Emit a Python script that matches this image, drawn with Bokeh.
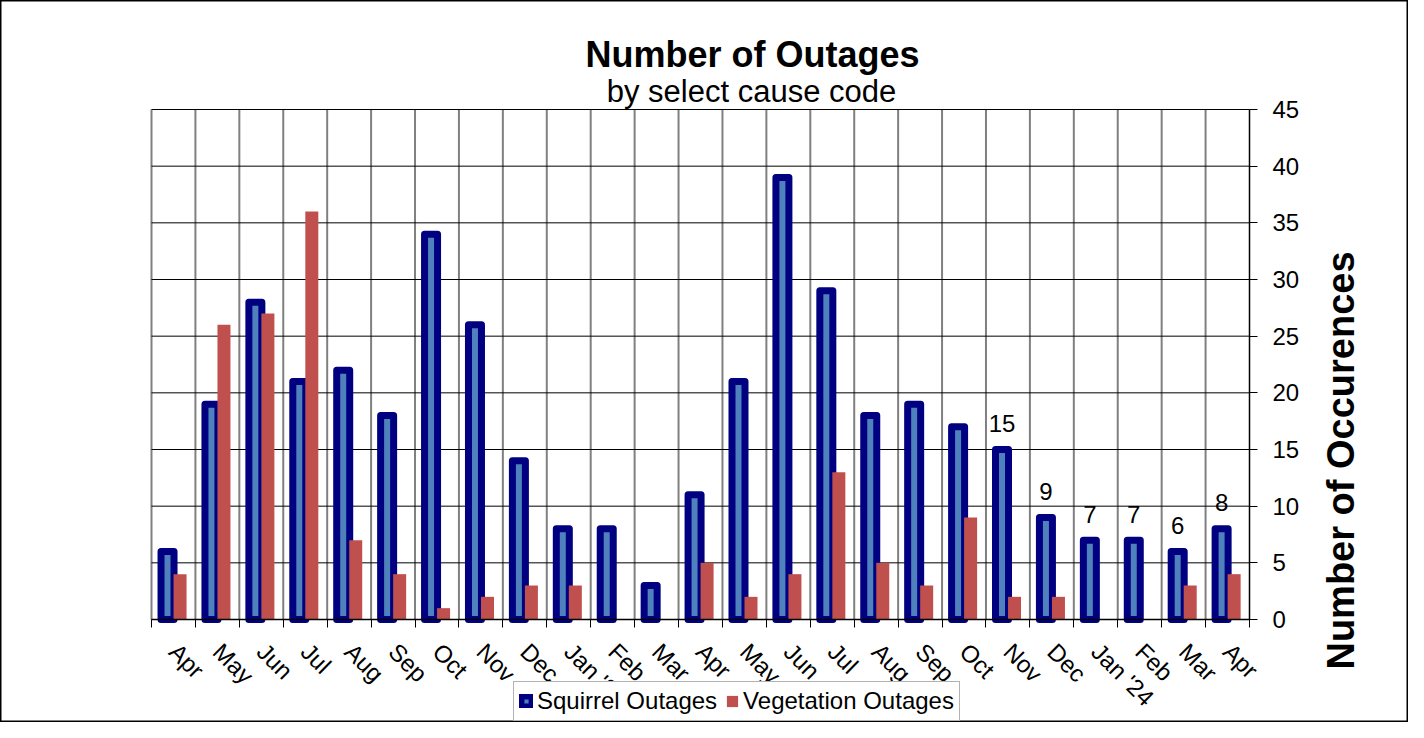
import math
from bokeh.plotting import figure
from bokeh.models import Range1d, FixedTicker, Label
from bokeh.core.properties import value
from bokeh.embed import file_html
from bokeh.resources import INLINE

# ---- data ----
months = ["Apr", "May", "Jun", "Jul", "Aug", "Sep", "Oct", "Nov", "Dec", "Jan '23",
          "Feb", "Mar", "Apr", "May", "Jun", "Jul", "Aug", "Sep", "Oct", "Nov", "Dec",
          "Jan '24", "Feb", "Mar", "Apr"]
squirrel = [6, 19, 28, 21, 22, 18, 34, 26, 14, 8, 8, 3, 11, 21, 39, 29, 18, 19, 17, 15, 9, 7, 7, 6, 8]
vegetation = [4, 26, 27, 36, 7, 4, 1, 2, 3, 3, 0, 0, 5, 2, 4, 13, 5, 3, 9, 2, 2, 0, 0, 3, 4]
squirrel_labels = ["", "", "", "", "", "", "", "", "", "", "", "", "", "", "", "", "", "", "",
                   "15", "9", "7", "7", "6", "8"]
y_ticks = [0, 5, 10, 15, 20, 25, 30, 35, 40, 45]
y_max = 45

FONT = "Liberation Sans"
n = len(months)
idx = list(range(n))
bounds_x = [i - 0.5 for i in range(n + 1)]

# ---- layout (pixels) ----
W, H = 1408, 722
PL, PR, PT, PB = 151, 1249, 109, 619          # plot-area edges in the picture
ppx = (PR - PL) / n                            # px per category
ppy = (PB - PT) / y_max                        # px per unit


def px2x(px):
    return -0.5 + (px - PL) / ppx


def px2y(py):
    return (PB - py) / ppy


p = figure(width=W, height=H, output_backend="svg", toolbar_location=None,
           x_range=Range1d(px2x(0), px2x(W)), y_range=Range1d(px2y(H), px2y(0)),
           x_axis_location="below", y_axis_location="right", min_border=0)
p.outline_line_color = "black"
p.outline_line_width = 2
p.background_fill_color = "white"
p.border_fill_color = "white"
p.xgrid.visible = False
p.ygrid.visible = False

# grid of the plot area
p.segment(x0=bounds_x, y0=[0] * len(bounds_x), x1=bounds_x, y1=[y_max] * len(bounds_x),
          line_color="#808080", line_width=2)
p.segment(x0=[-0.5] * len(y_ticks), y0=y_ticks, x1=[n - 0.5] * len(y_ticks), y1=y_ticks,
          line_color="black", line_width=1)

sq_x = [i - 0.135 for i in idx]
veg_x = [i + 0.15 for i in idx]
p.vbar(x=sq_x, top=squirrel, bottom=0, width=0.296,
       fill_color="#4F81BD", line_color="#000080", line_width=7, line_join="round",
       legend_label="Squirrel Outages")
p.vbar(x=veg_x, top=vegetation, bottom=0, width=0.296,
       fill_color="#C0504D", line_color=None, legend_label="Vegetation Outages")

p.text(x=sq_x, y=squirrel, text=squirrel_labels, y_offset=-26,
       text_align="center", text_baseline="alphabetic",
       text_font=value(FONT), text_font_size="24px", text_color="black")

# x axis at y = 0
xa = p.xaxis[0]
xa.fixed_location = 0
xa.bounds = (-0.5, n - 0.5)
xa.ticker = FixedTicker(ticks=idx, minor_ticks=bounds_x)
xa.major_label_overrides = {i: months[i] for i in idx}
xa.major_tick_line_color = None
xa.major_tick_out = 0
xa.major_tick_in = 0
xa.minor_tick_line_color = "black"
xa.minor_tick_out = 8
xa.minor_tick_in = 0
xa.axis_line_color = "black"
xa.axis_line_width = 1.5
xa.major_label_orientation = -math.pi / 4
xa.major_label_text_font = FONT
xa.major_label_text_font_size = "24px"
xa.major_label_text_color = "black"
xa.major_label_standoff = 20

# y axis at the right edge of the plot area
ya = p.yaxis[0]
ya.fixed_location = n - 0.5
ya.bounds = (0, y_max)
ya.ticker = FixedTicker(ticks=y_ticks)
ya.axis_line_color = "black"
ya.major_tick_line_color = "black"
ya.major_tick_out = 8
ya.major_tick_in = 0
ya.minor_tick_line_color = None
ya.major_label_text_font = FONT
ya.major_label_text_font_size = "24px"
ya.major_label_text_color = "black"
ya.major_label_standoff = 15

# titles and axis title
p.add_layout(Label(x=px2x(752), y=px2y(54), text="Number of Outages", text_align="center",
                   text_baseline="alphabetic", text_font=FONT, text_font_size="36px",
                   text_font_style="bold", text_color="black"))
p.add_layout(Label(x=px2x(751), y=px2y(91), text="by select cause code", text_align="center",
                   text_baseline="alphabetic", text_font=FONT, text_font_size="31px",
                   text_color="black"))
p.add_layout(Label(x=px2x(1340), y=px2y(460), text="Number of Occurences", angle=math.pi / 2,
                   text_align="center", text_baseline="alphabetic", text_font=FONT,
                   text_font_size="38px", text_font_style="bold", text_color="black"))

# legend
lg = p.legend[0]
lg.orientation = "horizontal"
lg.location = (513, 1)
lg.label_text_font = FONT
lg.label_text_font_size = "24px"
lg.label_text_color = "black"
lg.glyph_width = 14
lg.glyph_height = 14
lg.label_standoff = 4
lg.spacing = 8
lg.padding = 5
lg.margin = 0
lg.border_line_color = "#666666"
lg.border_line_width = 1
lg.background_fill_color = "white"
lg.background_fill_alpha = 1

open("out.html", "w").write(file_html(p, INLINE))
